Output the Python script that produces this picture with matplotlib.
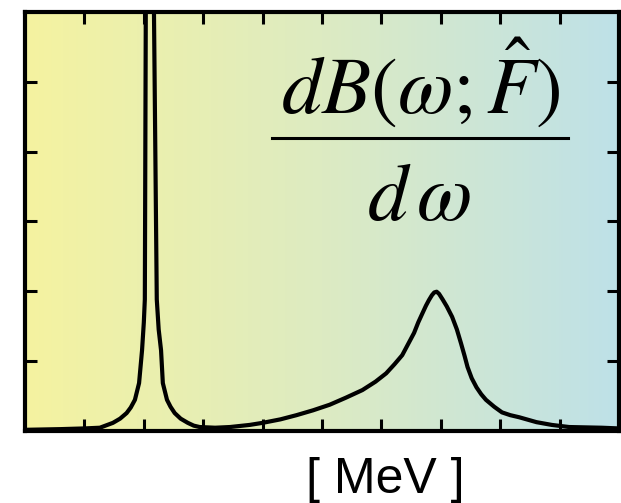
import numpy as np
import matplotlib.pyplot as plt
from matplotlib.colors import LinearSegmentedColormap
from matplotlib.lines import Line2D

plt.rcParams['mathtext.fontset'] = 'stix'

# strength function dB/dw (energy in arbitrary units)
omega = [0.0, 0.6, 1.0, 1.26, 1.48, 1.6, 1.71, 1.78, 1.85, 1.92, 1.97,
         2.0, 2.017, 2.035, 2.10, 2.165, 2.218, 2.25, 2.29, 2.32, 2.39,
         2.45, 2.52, 2.62, 2.74, 2.84, 2.94, 3.2, 3.45, 3.78, 4.0, 4.3,
         4.57, 4.85, 5.13, 5.4, 5.68, 5.9, 6.08, 6.22, 6.35, 6.45, 6.55,
         6.62, 6.69, 6.75, 6.80, 6.85, 6.89, 6.93, 6.97, 7.03, 7.1, 7.19,
         7.27, 7.34, 7.40, 7.45, 7.52, 7.60, 7.68, 7.76, 7.9, 8.03, 8.17,
         8.32, 8.61, 8.87, 9.16, 9.71, 10.0]
strength = [0.01, 0.02, 0.03, 0.04, 0.11, 0.17, 0.25, 0.33, 0.44, 0.68, 1.15,
            1.55, 1.88, 6.5, 9.0, 6.5, 1.88, 1.45, 1.15, 0.68, 0.44,
            0.34, 0.25, 0.17, 0.11, 0.07, 0.05, 0.04, 0.05, 0.08, 0.11, 0.16,
            0.22, 0.29, 0.37, 0.47, 0.58, 0.70, 0.82, 0.95, 1.08, 1.24, 1.40,
            1.55, 1.68, 1.79, 1.87, 1.94, 1.98, 1.99, 1.96, 1.88, 1.78, 1.63,
            1.45, 1.25, 1.07, 0.91, 0.75, 0.62, 0.52, 0.44, 0.34, 0.26, 0.22,
            0.19, 0.12, 0.08, 0.05, 0.04, 0.03]

x_ticks = [1, 2, 3, 4, 5, 6, 7, 8, 9]
y_ticks = [1, 2, 3, 4, 5]
bg_colors = ['#F5F3A0', '#DDEBC2', '#BEE1E8']

fig = plt.figure(figsize=(6.21, 5.03), dpi=100)
ax = fig.add_axes([0.0403, 0.1441, 0.9565, 0.832])

# yellow-to-blue backdrop
cmap = LinearSegmentedColormap.from_list('bg', bg_colors)
ax.imshow(np.linspace(0, 1, 256).reshape(1, -1), cmap=cmap,
          extent=[0, 10, 0, 6], aspect='auto', zorder=0)

ax.plot(omega, strength, color='black', lw=3.0, zorder=2,
        solid_joinstyle='round', solid_capstyle='round')

ax.set_xlim(0, 10)
ax.set_ylim(0, 6)
ax.set_xticks(x_ticks)
ax.set_yticks(y_ticks)
ax.tick_params(direction='in', length=8.5, width=2.2, top=True, right=True,
               labelbottom=False, labelleft=False)
for spine in ax.spines.values():
    spine.set_linewidth(3)
    spine.set_zorder(3)

# dB/dw written as a stacked fraction
fig.text(0.677, 0.773, r'$dB(\omega;\hat{F})$', fontsize=58,
         ha='center', va='baseline')
fig.add_artist(Line2D([0.438, 0.915], [0.7256, 0.7256], color='black',
                      lw=2.2, transform=fig.transFigure))
fig.text(0.675, 0.563, r'$d\,\omega$', fontsize=58,
         ha='center', va='baseline')

fig.text(0.62, 0.046, '[ MeV ]', fontsize=36, family='Liberation Sans',
         ha='center', va='center')

fig.savefig('out.png', dpi=100)
